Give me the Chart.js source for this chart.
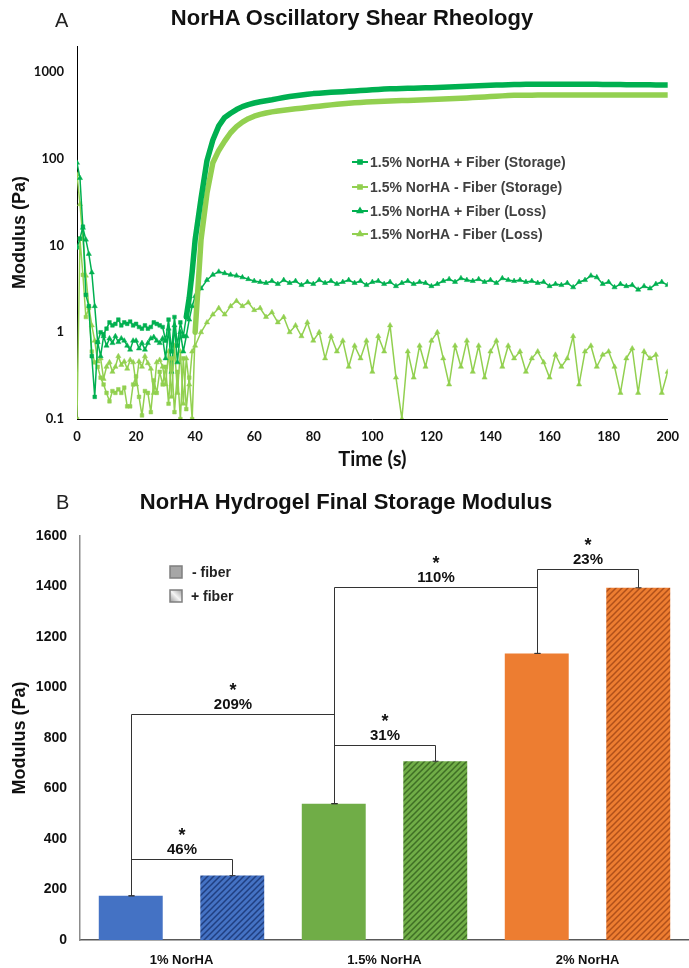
<!DOCTYPE html>
<html lang="en">
<head>
    <meta charset="UTF-8">
    <title>NorHA Rheology</title>
    <script src="https://cdn.jsdelivr.net/npm/chart.js"></script>
    <style>
        body { margin: 0; background: #fff; font-family: 'Liberation Sans', Arial, sans-serif; }
        #page { position: relative; width: 689px; height: 968px; overflow: hidden; }
        canvas { position: absolute; left: 0; }
        .letter { position: absolute; font-size: 20px; line-height: 24px; color: #222; }
        .title { position: absolute; left: 0; font-weight: bold; font-size: 22px; line-height: 26px; color: #111; text-align: center; }
    </style>
</head>
<body>
<div id="page">
    <canvas id="rheoChart" width="689" height="478" style="top:0"></canvas>
    <canvas id="modChart" width="689" height="490" style="top:478px"></canvas>
    <div class="letter" style="left:55px;top:8px">A</div>
    <div class="title" style="top:5px;width:704px">NorHA Oscillatory Shear Rheology</div>
    <div class="letter" style="left:56px;top:490px">B</div>
    <div class="title" style="top:489px;width:692px">NorHA Hydrogel Final Storage Modulus</div>
</div>

<script>
    // ---- panel A: oscillatory shear, time (s) vs modulus (Pa) ----
    const timeS = [0,1,2,3,4,5,6,7,8,9,10,11,12,13,14,15,16,17,18,19,20,21,22,23,24,25,26,27,28,29,30,31,32,33,34,35,36,37,38,39,40,
        42,44,46,48,50,52,54,56,58,60,62,64,66,68,70,72,74,76,78,80,82,84,86,88,90,92,94,96,98,100,
        102,104,106,108,110,112,114,116,118,120,122,124,126,128,130,132,134,136,138,140,142,144,146,148,150,
        152,154,156,158,160,162,164,166,168,170,172,174,176,178,180,182,184,186,188,190,192,194,196,198,200];

    const storagePlus = [9.5,12,16.5,2.7,2.0,0.53,0.18,0.77,1.0,0.95,
        1.1,1.3,1.2,1.25,1.4,1.2,1.3,1.25,1.33,1.2,
        1.25,1.15,1.1,1.2,1.1,1.15,1.3,1.25,1.2,1.15,
        0.8,1.4,0.6,1.5,0.7,1.3,0.9,1.5,2.5,5,11.7,
        35,95,165,240,300,335,370,400,422,440,
        455,468,480,495,510,522,533,544,555,565,
        572,578,584,590,595,600,606,612,618,624,
        630,638,641,644,647,650,653,656,659,662,
        665,669,673,677,681,685,690,695,700,704,
        708,712,716,720,721,722,723,723,724,724,
        725,725,725,725,725,724,723,722,721,720,
        719,718,717,716,715,714,713,712,712,711];

    const storageMinus = [0.1,12,4.6,1.5,1.9,0.6,0.45,0.4,0.3,0.25,
        0.2,0.16,0.21,0.2,0.22,0.2,0.23,0.14,0.14,0.25,
        0.31,0.18,0.11,0.21,0.2,0.12,0.28,0.2,0.35,0.25,
        0.4,0.15,0.5,0.12,0.35,0.1,0.5,0.13,0.3,0.1,1.0,
        11.7,40,90,125,160,200,235,265,290,310,
        325,338,348,356,363,370,377,384,391,398,
        405,412,419,425,431,437,442,447,451,455,
        458,461,464,467,470,472,475,478,481,484,
        487,490,493,497,500,504,508,512,517,522,
        527,532,537,540,541,542,542,543,543,543,
        544,544,544,544,544,545,545,545,545,545,
        545,545,545,545,545,545,545,545,545,545];

    const lossPlus = [90,60,16,11.7,8,4.9,2.0,0.77,0.53,0.9,
        0.7,0.85,0.75,0.9,0.77,0.85,0.8,0.7,0.63,0.8,
        0.8,0.65,0.75,0.63,0.75,0.85,0.88,0.8,0.75,0.85,
        0.5,1.1,0.35,1.2,0.45,1.0,0.6,0.9,1.4,2.0,2.6,
        3.2,4.0,4.6,5.0,4.8,4.6,4.5,4.3,4.1,3.9,
        3.8,3.7,3.9,3.6,4.0,3.7,3.9,3.5,3.8,3.6,
        4.0,3.7,3.9,3.6,3.8,4.0,3.7,3.9,3.5,3.8,
        3.9,3.6,3.8,3.4,3.7,3.9,3.6,3.8,3.7,3.4,
        3.6,3.9,4.1,3.8,4.2,4.0,3.9,4.1,3.8,4.0,
        3.7,4.2,4.0,3.9,4.0,3.8,3.9,3.7,3.8,3.4,
        3.6,3.5,3.7,3.3,3.8,4.0,4.5,4.3,3.6,3.8,
        3.3,3.6,3.4,3.5,3.1,3.4,3.2,3.6,3.8,3.5];

    const lossMinus = [66,30,12,4.5,2.0,1.2,0.8,0.46,0.5,0.29,
        0.4,0.45,0.35,0.4,0.53,0.42,0.46,0.38,0.48,0.45,
        0.25,0.46,0.4,0.53,0.44,0.38,0.2,0.45,0.48,0.4,
        0.25,0.6,0.18,0.7,0.2,0.6,0.15,0.5,0.25,0.6,0.7,
        1.0,1.3,1.6,1.9,1.6,2.0,2.3,2.0,2.2,1.8,
        1.9,1.5,1.7,1.3,1.5,1.0,1.2,0.9,1.3,0.8,
        1.0,0.5,0.9,0.6,0.8,0.4,0.7,0.5,0.8,0.35,
        0.9,0.6,1.2,0.3,0.1,0.6,0.3,0.7,0.4,0.8,
        1.0,0.5,0.25,0.7,0.4,0.8,0.35,0.7,0.3,0.6,
        0.8,0.4,0.7,0.5,0.6,0.35,0.5,0.6,0.45,0.3,
        0.55,0.4,0.5,0.9,0.25,0.6,0.7,0.4,0.55,0.6,
        0.4,0.2,0.5,0.65,0.2,0.6,0.5,0.55,0.2,0.35];

    const seriesLabels = ['1.5% NorHA + Fiber (Storage)', '1.5% NorHA - Fiber (Storage)',
                          '1.5% NorHA + Fiber (Loss)', '1.5% NorHA - Fiber (Loss)'];
    const yTicksTop = [0.1, 1, 10, 100, 1000];

    // ---- panel B: final storage modulus ----
    const categories = ['1% NorHA', '1.5% NorHA', '2% NorHA'];
    const noFiber = [175, 540, 1135];
    const withFiber = [255, 708, 1395];
    const yTicksBottom = [0, 200, 400, 600, 800, 1000, 1200, 1400, 1600];

    // significance brackets: [dataset, bar] -> [dataset, bar], level in Pa
    const bracketLabels = ['46%', '31%', '23%', '209%', '110%'];
    const bracketStart = [[0, 0], [0, 1], [0, 2], [0, 0], [0, 1]];
    const bracketEnd   = [[1, 0], [1, 1], [1, 2], [0, 1], [0, 2]];
    const bracketLevel = [320, 772, 1469, 895, 1398];

    const DARK = '#00B050', LIGHT = '#92D050';
    const sans = "'Liberation Sans', Arial, sans-serif";

    function lineSeries(label, values, color, style, thickFrom) {
        const ds = {
            label: label,
            data: timeS.map((t, i) => ({ x: t, y: values[i] })),
            borderColor: color,
            backgroundColor: color,
            pointBackgroundColor: color,
            pointBorderColor: color,
            pointStyle: style,
            pointBorderWidth: 0.5,
            borderWidth: 1.5,
            borderJoinStyle: 'round',
            borderCapStyle: 'round',
            tension: 0
        };
        if (thickFrom != null) {
            ds.pointRadius = c => (c.raw && c.raw.x >= thickFrom) ? 0 : 2.6;
            ds.segment = { borderWidth: c => c.p0.parsed.x >= thickFrom ? 5.5 : 1.5 };
        } else {
            ds.pointRadius = 3;
        }
        return ds;
    }

    const insideLegend = {
        id: 'insideLegend',
        afterDatasetsDraw(chart) {
            const ctx = chart.ctx;
            const ys = [162, 187, 211, 234];
            ctx.save();
            ctx.font = 'bold 14px ' + sans;
            ctx.textBaseline = 'middle';
            chart.data.datasets.forEach((ds, i) => {
                const y = ys[i];
                ctx.strokeStyle = ds.borderColor;
                ctx.lineWidth = 2;
                ctx.beginPath();
                ctx.moveTo(352, y);
                ctx.lineTo(368, y);
                ctx.stroke();
                ctx.fillStyle = ds.borderColor;
                Chart.helpers.drawPoint(ctx, { pointStyle: ds.pointStyle, radius: 2.6, rotation: 0, borderWidth: 0.5 }, 360, y);
                ctx.fillStyle = '#404040';
                ctx.fillText(ds.label, 370, y + 1);
            });
            ctx.restore();
        }
    };

    new Chart(document.getElementById('rheoChart'), {
        type: 'line',
        data: {
            datasets: [
                lineSeries(seriesLabels[0], storagePlus, DARK, 'rect', 37),
                lineSeries(seriesLabels[1], storageMinus, LIGHT, 'rect', 40),
                lineSeries(seriesLabels[2], lossPlus, DARK, 'triangle'),
                lineSeries(seriesLabels[3], lossMinus, LIGHT, 'triangle')
            ]
        },
        options: {
            responsive: false,
            animation: false,
            layout: { padding: { top: 46, right: 11, left: 0, bottom: 0 } },
            plugins: { legend: { display: false }, tooltip: { enabled: false } },
            scales: {
                x: {
                    type: 'linear', min: 0, max: 200,
                    afterFit: s => { s.height = 59; },
                    grid: { display: false, drawTicks: false },
                    border: { color: '#000', width: 1 },
                    ticks: { stepSize: 20, padding: 10, color: '#111', font: { family: 'Lato', weight: 'bold', size: 13 } },
                    title: { display: true, text: 'Time (s)', color: '#111',
                             font: { family: 'Lato', weight: 'bold', size: 20 }, padding: { top: 0, bottom: 6 } }
                },
                y: {
                    type: 'logarithmic', min: 0.1, max: 2000,
                    afterFit: s => { s.width = 77; },
                    afterBuildTicks: s => { s.ticks = yTicksTop.map(v => ({ value: v })); },
                    grid: { display: false, drawTicks: false },
                    border: { color: '#000', width: 1 },
                    ticks: { padding: 13, color: '#111', font: { family: 'Lato', weight: 'bold', size: 13 },
                             callback: v => String(v) },
                    title: { display: true, text: 'Modulus (Pa)', color: '#111',
                             font: { family: sans, weight: 'bold', size: 18 }, padding: { top: 9, bottom: 0 } }
                }
            }
        },
        plugins: [insideLegend]
    });

    // ---- panel B ----
    function hatch(base, stripe) {
        const c = document.createElement('canvas');
        c.width = 6; c.height = 6;
        const g = c.getContext('2d');
        g.fillStyle = base;
        g.fillRect(0, 0, 6, 6);
        g.strokeStyle = stripe;
        g.lineWidth = 1.5;
        g.beginPath();
        g.moveTo(0, 6); g.lineTo(6, 0);
        g.moveTo(-3, 3); g.lineTo(3, -3);
        g.moveTo(3, 9); g.lineTo(9, 3);
        g.stroke();
        return g.createPattern(c, 'repeat');
    }

    const plainColors = ['#4472C4', '#70AD47', '#ED7D31'];
    const hatchColors = [hatch('#4472C4', '#203F80'), hatch('#70AD47', '#3F6E25'), hatch('#ED7D31', '#B0501A')];

    const brackets = {
        id: 'brackets',
        afterDatasetsDraw(chart) {
            const ctx = chart.ctx;
            const y = chart.scales.y;
            ctx.save();
            ctx.strokeStyle = '#333';
            ctx.lineWidth = 1;
            ctx.fillStyle = '#111';
            ctx.textAlign = 'center';
            ctx.textBaseline = 'alphabetic';
            bracketLabels.forEach((label, k) => {
                const a = chart.getDatasetMeta(bracketStart[k][0]).data[bracketStart[k][1]];
                const b = chart.getDatasetMeta(bracketEnd[k][0]).data[bracketEnd[k][1]];
                const yl = Math.round(y.getPixelForValue(bracketLevel[k])) + 0.5;
                const xa = Math.round(a.x) + 0.5, xb = Math.round(b.x) + 0.5;
                ctx.beginPath();
                ctx.moveTo(xa, a.y);
                ctx.lineTo(xa, yl);
                ctx.lineTo(xb, yl);
                ctx.lineTo(xb, b.y);
                ctx.stroke();
                ctx.beginPath();
                ctx.moveTo(xa - 3, a.y); ctx.lineTo(xa + 3, a.y);
                ctx.moveTo(xb - 3, b.y); ctx.lineTo(xb + 3, b.y);
                ctx.stroke();
                const mid = (xa + xb) / 2;
                ctx.font = 'bold 15px ' + sans;
                ctx.fillText(label, mid, yl - 6);
                ctx.font = 'bold 18px ' + sans;
                ctx.fillText('*', mid, yl - 19);
            });
            ctx.restore();
        }
    };

    const fiberLegend = {
        id: 'fiberLegend',
        afterDraw(chart) {
            const ctx = chart.ctx;
            ctx.save();
            ctx.lineWidth = 1.5;
            ctx.strokeStyle = '#7F7F7F';
            ctx.fillStyle = '#A6A6A6';
            ctx.fillRect(170, 88, 12, 12);
            ctx.strokeRect(170, 88, 12, 12);
            const gr = ctx.createLinearGradient(170, 124, 182, 112);
            gr.addColorStop(0, '#9a9a9a');
            gr.addColorStop(0.5, '#f4f4f4');
            gr.addColorStop(1, '#a0a0a0');
            ctx.fillStyle = gr;
            ctx.fillRect(170, 112, 12, 12);
            ctx.strokeRect(170, 112, 12, 12);
            ctx.fillStyle = '#222';
            ctx.font = 'bold 14px ' + sans;
            ctx.textBaseline = 'middle';
            ctx.fillText('- fiber', 192, 95);
            ctx.fillText('+ fiber', 191, 119);
            ctx.restore();
        }
    };

    new Chart(document.getElementById('modChart'), {
        type: 'bar',
        data: {
            labels: categories,
            datasets: [
                { label: '- fiber', data: noFiber, backgroundColor: plainColors,
                  barPercentage: 0.63, categoryPercentage: 1.0 },
                { label: '+ fiber', data: withFiber, backgroundColor: hatchColors,
                  barPercentage: 0.63, categoryPercentage: 1.0 }
            ]
        },
        options: {
            responsive: false,
            animation: false,
            layout: { padding: { top: 58, right: 0, left: 0, bottom: 0 } },
            plugins: { legend: { display: false }, tooltip: { enabled: false } },
            scales: {
                x: {
                    afterFit: s => { s.height = 28; },
                    grid: { display: false, drawTicks: false },
                    border: { color: '#595959', width: 1.5 },
                    ticks: { padding: 13, color: '#111', font: { family: sans, weight: 'bold', size: 13 } }
                },
                y: {
                    min: 0, max: 1600,
                    afterFit: s => { s.width = 80; },
                    afterBuildTicks: s => { s.ticks = yTicksBottom.map(v => ({ value: v })); },
                    grid: { display: false, drawTicks: false },
                    border: { color: '#8C8C8C', width: 1.5 },
                    ticks: { padding: 13, color: '#111', font: { family: sans, weight: 'bold', size: 14 },
                             callback: v => String(v) },
                    title: { display: true, text: 'Modulus (Pa)', color: '#111',
                             font: { family: sans, weight: 'bold', size: 18 }, padding: { top: 9, bottom: 0 } }
                }
            }
        },
        plugins: [brackets, fiberLegend]
    });
</script>
</body>
</html>
